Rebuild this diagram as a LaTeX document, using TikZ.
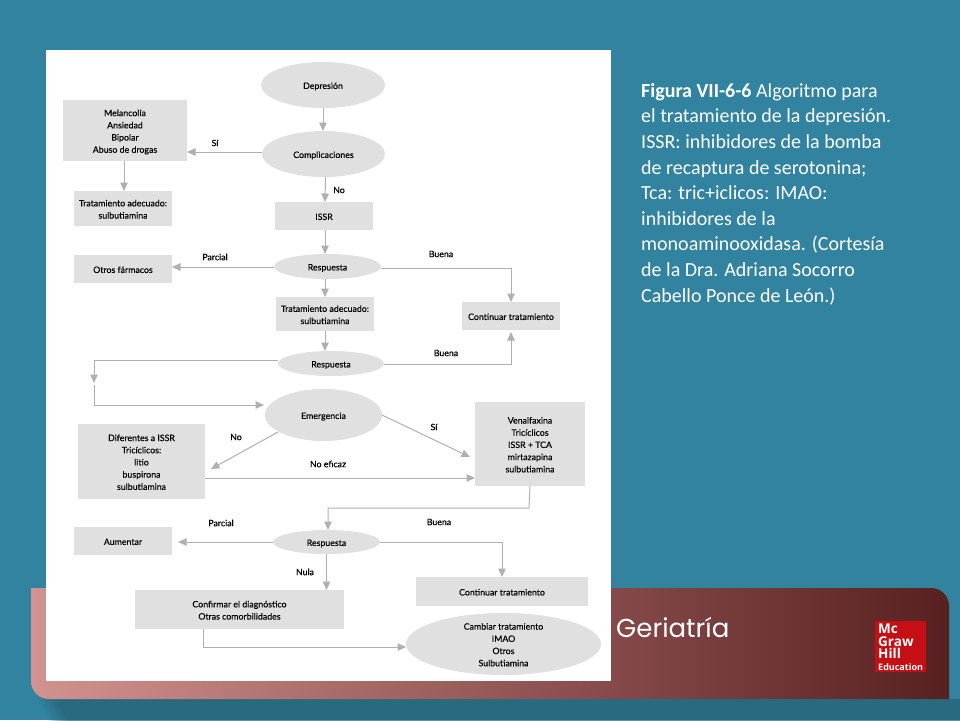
\documentclass[tikz,border=0pt]{standalone}
\usepackage{fontspec}
\setmainfont{Lato}
\newfontfamily\diagfont{Lato}[FakeBold=0.3]
\newfontfamily\slidefont{Carlito}
\newfontfamily\titlefont{Poppins}
\newfontfamily\logofont{Open Sans}
\usetikzlibrary{arrows.meta,calc}
\definecolor{teal1}{HTML}{31839F}
\definecolor{teal2}{HTML}{2A6A80}
\definecolor{boxgray}{HTML}{E0E0E0}
\definecolor{linegray}{HTML}{B0B0B0}
\definecolor{logored}{HTML}{C50F14}
\definecolor{bandleft}{HTML}{D29290}
\definecolor{bandright}{HTML}{582020}
\tikzset{
  x=1pt,y=-1pt,
  boxnode/.style={fill=boxgray,inner sep=0pt,outer sep=0pt,font=\diagfont\fontsize{8.8}{12.2}\selectfont,text=black},
  ovalnode/.style={inner sep=0pt,outer sep=0pt,font=\diagfont\fontsize{8.8}{12.2}\selectfont,text=black},
  lbl/.style={font=\diagfont\fontsize{8.8}{11}\selectfont,text=black,inner sep=0pt},
  link/.style={draw=linegray,line width=1pt},
  arr/.style={link,-{Triangle[length=8.5pt,width=7.5pt,color=linegray]}},
}
\newcommand{\lowtext}[1]{\raisebox{-1.5pt}[\height][\depth]{\begin{tabular}{@{}c@{}}#1\end{tabular}}}
% box: name, x0, y0, x1, y1, text
\newcommand{\gbox}[6]{\node[boxnode,minimum width=#4pt-#2pt,minimum height=#5pt-#3pt] (#1) at ({(#2+#4)/2},{(#3+#5)/2}) {\lowtext{#6}};}
% oval: name, x0, y0, x1, y1, text
\newcommand{\goval}[6]{\fill[boxgray] ({(#2+#4)/2},{(#3+#5)/2}) ellipse [x radius={(#4-#2)/2},y radius={(#5-#3)/2}];
  \node[ovalnode,minimum width=#4pt-#2pt,minimum height=#5pt-#3pt] (#1) at ({(#2+#4)/2},{(#3+#5)/2}) {\lowtext{#6}};}
\begin{document}
\begin{tikzpicture}
\useasboundingbox (0,0) rectangle (960,720);
\fill[teal1] (0,0) rectangle (960,720);
% shadow, with a soft slanted left edge
\foreach \s in {0,10,...,100}{
  \fill[teal2!\s!teal1] ({36+\s*0.2},699) -- (960,699) -- (960,720) -- ({48+\s*0.2},720) -- cycle;
}
% band
\shade[left color=bandleft,right color=bandright]
  (31,588) -- (931,588) .. controls (941,588) and (949,596) .. (949,606)
  -- (949,699) -- (49,699) .. controls (39,699) and (31,691) .. (31,681) -- cycle;
\node[font=\titlefont\fontsize{26}{30}\selectfont,text=white,anchor=west,inner sep=0pt] (geri) at (616,627) {Geriatría};
% logo
\node[fill=logored,minimum width=51pt,minimum height=51pt,inner sep=0pt] (logo) at (900.5,646.5) {};
\node[anchor=north west,inner sep=0pt,text=white,align=left,font=\logofont\bfseries\fontsize{13.5}{12.8}\selectfont] (logot) at (878,623.5) {Mc\\Graw\\Hill\\[-1.5pt]{\fontsize{9}{9}\selectfont Education}};
% panel
\fill[white] (46,50) rectangle (611,681);
% caption
\node[anchor=north west,inner sep=0pt,align=left,text=white,font=\slidefont\fontsize{20}{25.6}\selectfont] (cap) at (641,83) {\textbf{Figura VII-6-6} Algoritmo para\\el tratamiento de la depresión.\\ISSR: inhibidores de la bomba\\de recaptura de serotonina;\\Tca: tric+iclicos: IMAO:\\inhibidores de la\\monoaminooxidasa. (Cortesía\\de la Dra. Adriana Socorro\\Cabello Ponce de León.)};
% nodes
\goval{dep}{261}{62}{385}{108}{Depresión}
\goval{comp}{262}{131}{385}{177}{Complicaciones}
\gbox{mel}{63}{100}{187}{161}{Melancolía\\Ansiedad\\Bipolar\\Abuso de drogas}
\gbox{ta}{74}{191}{172}{226}{Tratamiento adecuado:\\sulbutiamina}
\gbox{issr}{275}{202}{373}{230}{ISSR}
\gbox{otros}{74}{255}{172}{283}{Otros fármacos}
\goval{r1}{274}{254}{381}{279}{Respuesta}
\gbox{tb}{276}{297}{374}{331}{Tratamiento adecuado:\\sulbutiamina}
\goval{r2}{278}{351}{384}{376}{Respuesta}
\gbox{cont}{462}{302}{560}{330}{Continuar tratamiento}
\goval{em}{265}{389}{382}{441}{Emergencia}
\gbox{dif}{78}{424}{205}{499}{Diferentes a ISSR\\Tricíclicos:\\litio\\buspirona\\sulbutiamina}
\gbox{ven}{475}{402}{585}{486}{Venalfaxina\\Tricíclicos\\ISSR + TCA\\mirtazapina\\sulbutiamina}
\goval{r3}{273}{530}{380}{554}{Respuesta}
\gbox{aum}{74}{527}{172}{555}{Aumentar}
\gbox{conf}{135}{590}{344}{629}{Confirmar el diagnóstico\\Otras comorbilidades}
\gbox{cont2}{416}{577}{588}{606}{Continuar tratamiento}
\goval{camb}{406}{613}{601}{675}{Cambiar tratamiento\\IMAO\\Otros\\Sulbutiamina}
% way points
\coordinate (w1) at (94,360);
\coordinate (w2) at (94,383);
\coordinate (w3) at (94,385);
\coordinate (w4) at (94,405);
\coordinate (w5) at (529,508);
\coordinate (w6) at (328,508);
\coordinate (w7) at (203.5,647);
% connectors
\draw[arr] (dep.south) -- (dep.south |- comp.north);
\draw[arr] ([yshift=2pt]comp.west) -- ([yshift=9pt]mel.south east);
\draw[arr] ([xshift=-1pt]mel.south) -- ([xshift=1pt]ta.north);
\draw[arr] ([xshift=2pt]comp.south) -- ([xshift=1pt]issr.north);
\draw[arr] ([xshift=1pt]issr.south) -- ([xshift=-2.5pt]r1.north);
\draw[arr] ([yshift=-0.5pt]r1.west) -- ([yshift=-0.5pt]otros.east |- r1.west);
\draw[arr] ([xshift=-2.5pt]r1.south) -- (tb.north);
\draw[arr] (tb.south) -- (tb.south |- r2.north);
\draw[arr] ([yshift=-1.5pt]r1.east) -| (cont.north);
\draw[arr] ([yshift=-1pt]r2.east) -| ([yshift=-2pt]cont.south);
\draw[arr] ([yshift=3.5pt]r2.west) -- (w1) -- (w2);
\draw[arr] (w3) -- (w4) -- ([yshift=10pt,xshift=-1pt]em.west);
\draw[arr] ([xshift=13pt,yshift=-17pt]em.west) -- ([xshift=6pt,yshift=-7.5pt]dif.east);
\draw[arr] (em.east) -- ([xshift=-5pt,yshift=-13pt]ven.west);
\draw[arr] ([yshift=-16.5pt]dif.east) -- ([yshift=-34pt]ven.west);
\draw[arr] (ven.south) -- (w5) -- (w6) -- ([xshift=1.5pt]r3.north);
\draw[arr] (r3.west) -- ([xshift=6pt]aum.east |- r3.west);
\draw[arr] (r3.east) -| (cont2.north);
\draw[arr] (r3.south) -- (r3.south |- conf.north);
\draw[arr] (w7 |- conf.south) -- (w7) -- ([yshift=-3pt]camb.west);
% labels
\node[lbl] (l1) at (215,143) {Sí};
\node[lbl] (l2) at (339,190) {No};
\node[lbl] (l3) at (215,257) {Parcial};
\node[lbl] (l4) at (441,254) {Buena};
\node[lbl] (l5) at (446,353) {Buena};
\node[lbl] (l6) at (434,427) {Sí};
\node[lbl] (l7) at (236,437) {No};
\node[lbl] (l8) at (328,464) {No eficaz};
\node[lbl] (l9) at (221,523) {Parcial};
\node[lbl] (l10) at (439,522) {Buena};
\node[lbl] (l11) at (305,572) {Nula};
\end{tikzpicture}
\end{document}
